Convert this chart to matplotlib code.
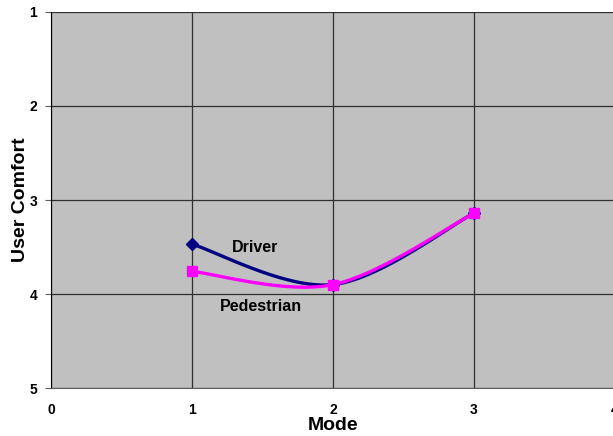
import numpy as np
import matplotlib
matplotlib.use("Agg")
import matplotlib.pyplot as plt

plt.rcParams['font.family'] = ['Liberation Sans', 'DejaVu Sans']

modes = [1, 2, 3]
driver = [3.47, 3.90, 3.14]
pedestrian = [3.76, 3.90, 3.14]


def smooth(xs, ys, n=60):
    """Bezier smoothing through the points (Catmull-Rom style control points)."""
    pts = np.column_stack([xs, ys]).astype(float)
    out = [pts[0:1]]
    for i in range(len(pts) - 1):
        p0 = pts[max(i - 1, 0)]
        p1 = pts[i]
        p2 = pts[i + 1]
        p3 = pts[min(i + 2, len(pts) - 1)]
        c1 = p1 + (p2 - p0) / 6.0
        c2 = p2 - (p3 - p1) / 6.0
        t = np.linspace(0, 1, n)[1:, None]
        seg = ((1 - t) ** 3) * p1 + 3 * ((1 - t) ** 2) * t * c1 + 3 * (1 - t) * t ** 2 * c2 + t ** 3 * p2
        out.append(seg)
    curve = np.vstack(out)
    return curve[:, 0], curve[:, 1]


fig = plt.figure(figsize=(6.13, 4.36), dpi=100)
ax = fig.add_axes([51 / 613, 48 / 436, 564 / 613, 376 / 436])
ax.set_facecolor('#C0C0C0')

ax.set_xlim(0, 4)
ax.set_ylim(5, 1)
ax.set_xticks([0, 1, 2, 3, 4])
ax.set_yticks([1, 2, 3, 4, 5])
ax.grid(True, color='#303030', linewidth=0.9)
ax.set_axisbelow(True)

sx, sy = smooth(modes, driver)
ax.plot(sx, sy, color='#000080', linewidth=2.4, zorder=3)
ax.plot(modes, driver, linestyle='none', marker='D', markersize=6,
        color='#000080', zorder=4)

sx, sy = smooth(modes, pedestrian)
ax.plot(sx, sy, color='#FF00FF', linewidth=2.4, zorder=5)
ax.plot(modes, pedestrian, linestyle='none', marker='s', markersize=7.5,
        color='#FF00FF', zorder=6)

ax.text(1.45, 3.51, 'Driver', fontsize=11.5, fontweight='bold', ha='center', va='center')
ax.text(1.49, 4.13, 'Pedestrian', fontsize=11.5, fontweight='bold', ha='center', va='center')

for s in ['top', 'right']:
    ax.spines[s].set_visible(False)
ax.spines['left'].set_color('black')
ax.spines['bottom'].set_color('#606060')

ax.tick_params(axis='x', length=0, pad=11, labelsize=10)
ax.tick_params(axis='y', length=4, width=0.8, color='#606060', pad=6, labelsize=10)
for lbl in ax.get_xticklabels() + ax.get_yticklabels():
    lbl.set_fontweight('bold')

ax.set_xlabel('Mode', fontsize=14, fontweight='bold', labelpad=0)
ax.set_ylabel('User Comfort', fontsize=14, fontweight='bold', labelpad=0)

fig.savefig('out.png', dpi=100)
